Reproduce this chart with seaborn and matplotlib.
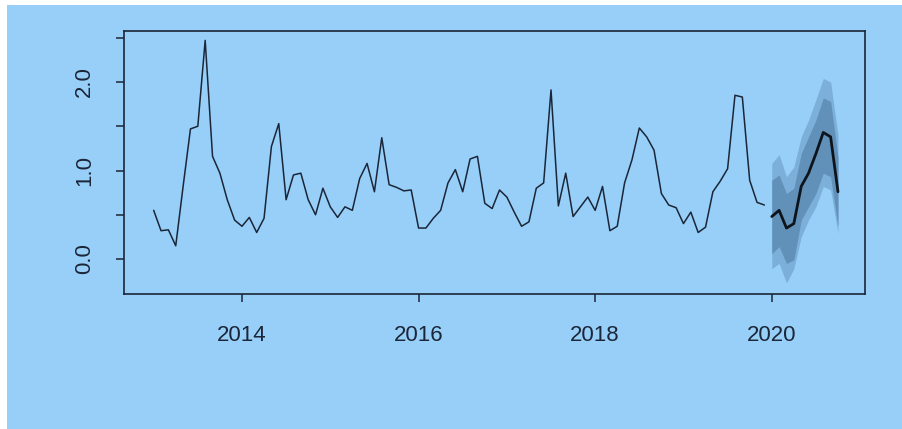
import numpy as np
import pandas as pd
import matplotlib
matplotlib.use("Agg")
import matplotlib.pyplot as plt
from matplotlib.patches import Rectangle
import seaborn as sns

# Monthly observations, Jan 2013 - Dec 2019
obs_2013 = [0.55, 0.32, 0.33, 0.15, 0.82, 1.47, 1.50, 2.47, 1.16, 0.97, 0.67, 0.44]
obs_2014 = [0.37, 0.47, 0.30, 0.46, 1.27, 1.53, 0.67, 0.95, 0.97, 0.67, 0.50, 0.80]
obs_2015 = [0.59, 0.47, 0.59, 0.55, 0.91, 1.08, 0.76, 1.37, 0.84, 0.81, 0.77, 0.78]
obs_2016 = [0.35, 0.35, 0.46, 0.55, 0.86, 1.01, 0.76, 1.13, 1.16, 0.63, 0.57, 0.78]
obs_2017 = [0.70, 0.53, 0.37, 0.42, 0.80, 0.86, 1.91, 0.60, 0.97, 0.48, 0.59, 0.70]
obs_2018 = [0.55, 0.82, 0.32, 0.37, 0.86, 1.12, 1.48, 1.38, 1.23, 0.74, 0.61, 0.58]
obs_2019 = [0.40, 0.53, 0.30, 0.36, 0.76, 0.88, 1.02, 1.85, 1.83, 0.89, 0.64, 0.61]

# Forecast, Jan 2020 - Oct 2020, with 80% and 95% intervals
fc_mean = [0.48, 0.55, 0.35, 0.40, 0.82, 0.97, 1.19, 1.43, 1.38, 0.76]
fc_lo80 = [0.06, 0.14, -0.05, -0.01, 0.44, 0.59, 0.74, 0.97, 0.93, 0.37]
fc_hi80 = [0.89, 0.95, 0.74, 0.80, 1.19, 1.38, 1.57, 1.82, 1.78, 1.15]
fc_lo95 = [-0.11, -0.05, -0.27, -0.11, 0.25, 0.44, 0.59, 0.82, 0.78, 0.29]
fc_hi95 = [1.08, 1.18, 0.93, 1.04, 1.38, 1.57, 1.80, 2.04, 2.00, 1.40]

x_ticks = [2014, 2016, 2018, 2020]
y_ticks = [0.0, 0.5, 1.0, 1.5, 2.0, 2.5]
y_tick_labels = ["0.0", "", "1.0", "", "2.0", ""]

observed = obs_2013 + obs_2014 + obs_2015 + obs_2016 + obs_2017 + obs_2018 + obs_2019
hist = pd.DataFrame({"time": 2013 + np.arange(len(observed)) / 12, "value": observed})
fc = pd.DataFrame({
    "time": 2020 + np.arange(len(fc_mean)) / 12,
    "mean": fc_mean, "lo80": fc_lo80, "hi80": fc_hi80,
    "lo95": fc_lo95, "hi95": fc_hi95,
})

BG = "#97cff8"
INK = "#1b2638"

sns.set_theme(style="white")
plt.rcParams["font.family"] = ["Liberation Sans", "DejaVu Sans"]

fig = plt.figure(figsize=(9.02, 4.29), dpi=100, facecolor="white")
fig.add_artist(Rectangle((7 / 902, 0), 1, 1 - 5 / 429, transform=fig.transFigure,
                         facecolor=BG, edgecolor="none", zorder=-10))
ax = fig.add_axes([124 / 902, 1 - 294 / 429, (865 - 124) / 902, (294 - 31) / 429])
ax.set_facecolor(BG)

ax.fill_between(fc["time"], fc["lo95"], fc["hi95"], color="#7cb0da", lw=0, zorder=1)
ax.fill_between(fc["time"], fc["lo80"], fc["hi80"], color="#6190b9", lw=0, zorder=2)
sns.lineplot(data=hist, x="time", y="value", ax=ax, color=INK, lw=1.1, zorder=3)
sns.lineplot(data=fc, x="time", y="mean", ax=ax, color="#0e141c", lw=2.0, zorder=4)

ax.set_xlim(2012.664, 2021.056)
ax.set_ylim(-0.395, 2.576)
ax.set_xticks(x_ticks)
ax.set_xticklabels([str(t) for t in x_ticks])
ax.set_yticks(y_ticks)
ax.set_yticklabels(y_tick_labels, rotation=90, va="center")
ax.set_xlabel("")
ax.set_ylabel("")

for s in ax.spines.values():
    s.set_visible(True)
    s.set_color(INK)
    s.set_linewidth(1.2)
ax.tick_params(axis="both", direction="out", length=6, width=1.1, color=INK,
               labelcolor=INK, labelsize=16)
ax.tick_params(axis="x", pad=16, bottom=True)
ax.tick_params(axis="y", pad=15, left=True)

fig.savefig("out.png", dpi=100, facecolor=fig.get_facecolor())
